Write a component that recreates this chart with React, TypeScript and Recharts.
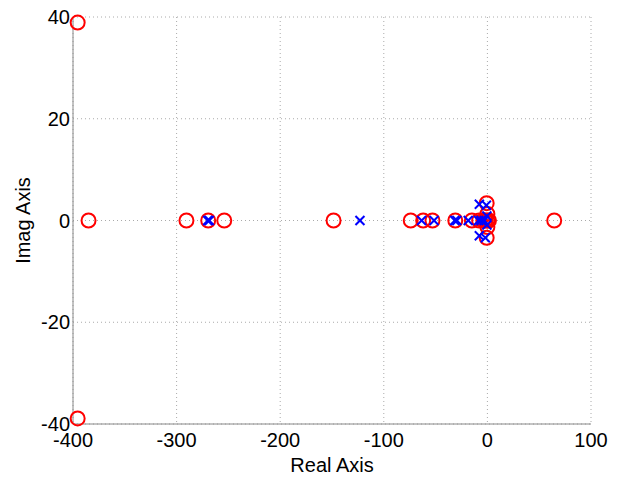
import React from 'react';
import { ScatterChart, Scatter, XAxis, YAxis, CartesianGrid } from 'recharts';

const xTicks = [-400, -300, -200, -100, 0, 100];
const yTicks = [-40, -20, 0, 20, 40];

const zeroReal = [-395.5, -395.5, -385, -290.5, -269.5, -254, -148.5, -74, -62, -53, -31, -15, -8, -4, -2, 0, 1.5, -0.7, -0.7, 0, 0, 64.5];
const zeroImag = [38.9, -38.9, 0, 0, 0, 0, 0, 0, 0, 0, 0, 0, 0, 0, 0, 0, 0, 3.4, -3.4, 1.3, -1.3, 0];

const poleReal = [-270, -268.5, -123, -63.5, -51.5, -31.5, -29.5, -18.5, -8.5, -6, -7.8, -7.8, -1, -2, -0.5, -0.5, -3];
const poleImag = [0, 0, 0, 0, 0, 0, 0, 0, 0, 0, 3.2, -3.0, 3.0, -3.4, 0.9, -0.9, 0];

const zeros = zeroReal.map((x, i) => ({ x, y: zeroImag[i] }));
const poles = poleReal.map((x, i) => ({ x, y: poleImag[i] }));

const font = '"Liberation Sans", Arial, sans-serif';

const CircleShape = (props: any) => {
  const { cx, cy } = props;
  return <circle cx={cx} cy={cy} r={7} fill="none" stroke="#ff0000" strokeWidth={2} />;
};

const CrossShape = (props: any) => {
  const { cx, cy } = props;
  const d = 4.5;
  return (
    <g stroke="#0000ff" strokeWidth={2}>
      <line x1={cx - d} y1={cy - d} x2={cx + d} y2={cy + d} />
      <line x1={cx - d} y1={cy + d} x2={cx + d} y2={cy - d} />
    </g>
  );
};

export default function App() {
  return (
    <ScatterChart
      width={616}
      height={471}
      margin={{ top: 9, right: 33, left: 0, bottom: 0 }}
      style={{ fontFamily: font }}
    >
      <CartesianGrid stroke="#aaaaaa" strokeDasharray="1 3" vertical horizontal />
      <XAxis
        type="number"
        dataKey="x"
        domain={[-400, 100]}
        ticks={xTicks}
        interval={0}
        height={55}
        tickLine={false}
        tickSize={0}
        tickMargin={9}
        axisLine={{ stroke: '#888888' }}
        tick={{ fill: '#000', fontSize: 20, fontFamily: font }}
        label={{ value: 'Real Axis', position: 'insideBottom', offset: 7, fill: '#000', fontSize: 20, fontFamily: font }}
      />
      <XAxis
        xAxisId="top"
        orientation="top"
        type="number"
        domain={[-400, 100]}
        height={0}
        tick={false}
        tickLine={false}
        axisLine={{ stroke: '#888888' }}
      />
      <YAxis
        type="number"
        dataKey="y"
        domain={[-40, 40]}
        ticks={yTicks}
        interval={0}
        width={65}
        tickLine={false}
        tickSize={0}
        tickMargin={3}
        axisLine={{ stroke: '#888888' }}
        tick={{ fill: '#000', fontSize: 20, fontFamily: font }}
        label={{ value: 'Imag Axis', angle: -90, position: 'insideLeft', offset: 15, fill: '#000', fontSize: 20, fontFamily: font, style: { textAnchor: 'middle' } }}
      />
      <YAxis
        yAxisId="right"
        orientation="right"
        type="number"
        domain={[-40, 40]}
        width={0}
        tick={false}
        tickLine={false}
        axisLine={{ stroke: '#888888' }}
      />
      <Scatter data={zeros} shape={CircleShape} isAnimationActive={false} />
      <Scatter data={poles} shape={CrossShape} isAnimationActive={false} />
    </ScatterChart>
  );
}
